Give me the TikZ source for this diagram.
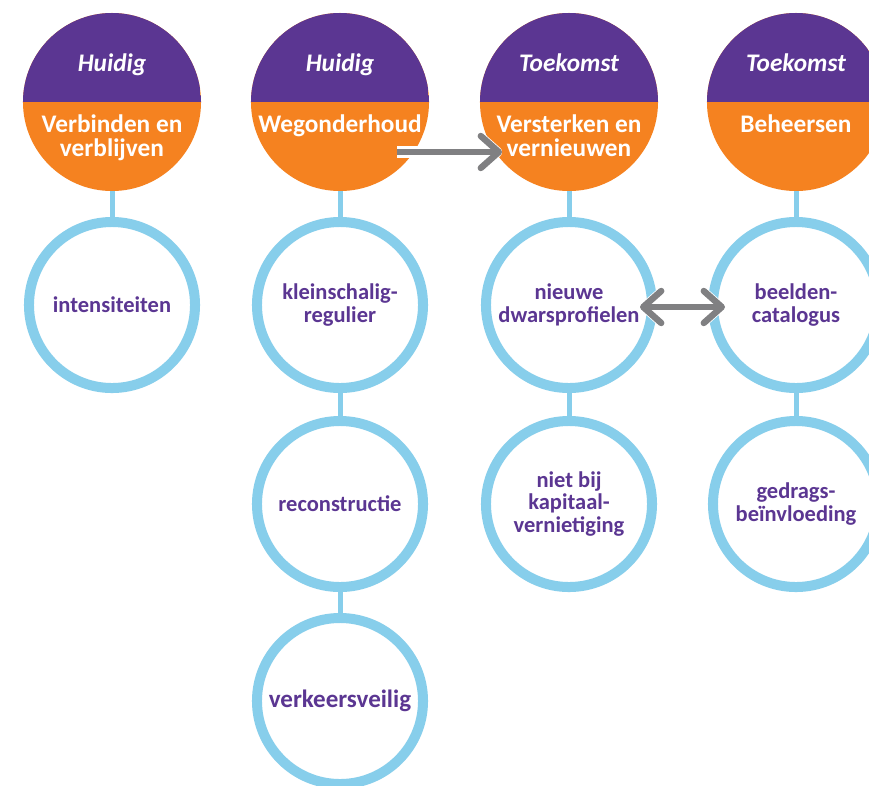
\documentclass[tikz,border=0pt]{standalone}
\usepackage{fontspec}
\setmainfont{Carlito}
\usetikzlibrary{arrows.meta,calc,positioning}
\definecolor{phasepurple}{RGB}{91,54,146}
\definecolor{phaseorange}{RGB}{245,130,32}
\definecolor{ringblue}{RGB}{135,206,235}
\definecolor{arrowgray}{RGB}{128,128,130}
\tikzset{
    phase/.style={
        circle,
        minimum size=4.45cm,
        inner sep=0pt,
        fill=phaseorange,
        path picture={
            \fill[phasepurple] (path picture bounding box.north west)
                rectangle (path picture bounding box.east);
        }
    },
    ring/.style={
        circle,
        draw=ringblue,
        line width=0.25cm,
        fill=white,
        minimum size=4.15cm,
        inner sep=0pt,
        align=center,
        text=phasepurple,
        font=\fontsize{16}{16}\selectfont\bfseries
    },
    bigring/.style={
        ring,
        font=\fontsize{17.8}{17.8}\selectfont\bfseries
    },
    when/.style={
        anchor=base,
        text=white,
        font=\fontsize{18}{18}\selectfont\bfseries\itshape
    },
    theme/.style={
        anchor=north,
        inner sep=0pt,
        align=center,
        text=white,
        font=\fontsize{18}{17.2}\selectfont\bfseries
    },
    link/.style={
        draw=ringblue,
        line width=0.125cm
    },
    barb/.tip={Straight Barb[length=0.45cm, width=0.8cm, round]},
    halo/.style={
        draw=white,
        line width=0.28cm
    },
    move/.style={
        draw=arrowgray,
        line width=0.16cm
    }
}

\begin{document}
\begin{tikzpicture}[x=0.025cm, y=0.025cm]
\fill[white] (0, 0) rectangle (869, -785);
\useasboundingbox (0, 0) rectangle (869, -785);

% Phase circles (top row)
\node[phase] (vv) at (112, -102) {};
\node[phase] (wo) at (340, -102) {};
\node[phase] (vn) at (569, -102) {};
\node[phase] (bh) at (796, -102) {};

\foreach \c/\w in {vv/Huidig, wo/Huidig, vn/Toekomst, bh/Toekomst} {
    \node[when] at ($(\c.center)+(0, 31)$) {\w};
}

\node[theme] at ($(vv.center)+(0, -12)$) {Verbinden en\\verblijven};
\node[theme] at ($(wo.center)+(0, -12)$) {Wegonderhoud};
\node[theme] at ($(vn.center)+(0, -12)$) {Versterken en\\vernieuwen};
\node[theme] at ($(bh.center)+(0, -12)$) {Beheersen};

% Rings under each phase
\node[ring] (intens) at (112, -305) {intensiteiten};
\node[ring] (klein) at (340, -305) {kleinschalig-\\regulier};
\node[ring] (recon) at (340, -504) {reconstructie};
\node[bigring] (veilig) at (340, -701) {verkeersveilig};
\node[ring] (dwars) at (569, -305) {nieuwe\\dwarsprofielen};
\node[ring] (kapitaal) at (569, -504) {niet bij\\kapitaal-\\vernietiging};
\node[ring] (beeld) at (796, -305) {beelden-\\catalogus};
\node[ring] (gedrag) at (796, -504) {gedrags-\\beïnvloeding};

% Vertical links
\draw[link] (vv) -- (intens);
\draw[link] (wo) -- (klein);
\draw[link] (klein) -- (recon);
\draw[link] (recon) -- (veilig);
\draw[link] (vn) -- (dwars);
\draw[link] (dwars) -- (kapitaal);
\draw[link] (bh) -- (beeld);
\draw[link] (beeld) -- (gedrag);

% Gray arrows with a white rim
\coordinate (wo-out) at ($(wo.center)+(57, -50)$);
\coordinate (vn-in) at ($(vn.center)+(-67, -50)$);
\coordinate (dwars-end) at ($(dwars.center)+(71, -2)$);
\coordinate (beeld-end) at ($(beeld.center)+(-71, -2)$);

\draw[halo, -barb] (wo-out) -- (vn-in);
\draw[move, -barb] (wo-out) -- (vn-in);
\draw[halo, barb-barb] (dwars-end) -- (beeld-end);
\draw[move, barb-barb] (dwars-end) -- (beeld-end);
\end{tikzpicture}
\end{document}
